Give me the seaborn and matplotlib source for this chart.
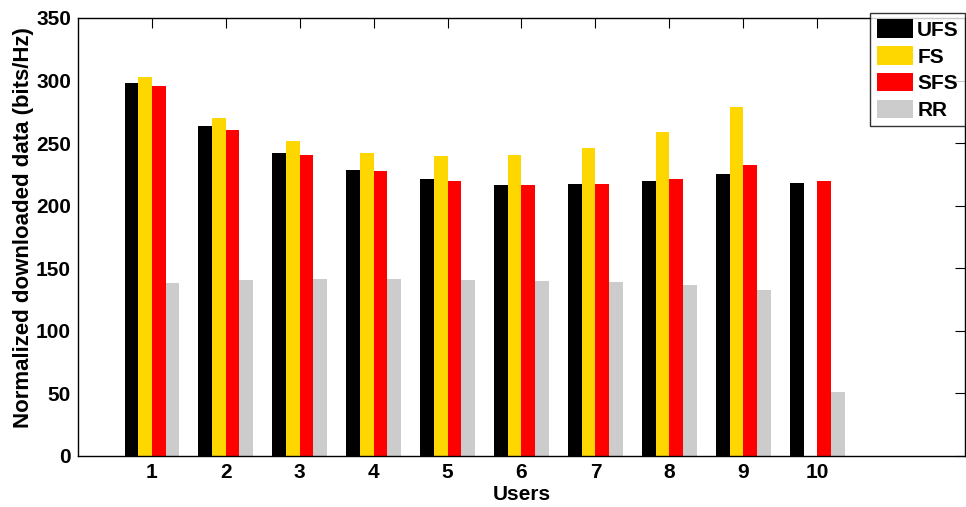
import numpy as np
import pandas as pd
import seaborn as sns
import matplotlib
matplotlib.use("Agg")
import matplotlib.pyplot as plt

users = [1, 2, 3, 4, 5, 6, 7, 8, 9, 10]
schemes = ["UFS", "FS", "SFS", "RR"]
ufs = [298.3, 263.4, 242.4, 228.8, 221.1, 216.3, 217.1, 219.5, 225.1, 218.4]
fs = [302.9, 269.8, 251.5, 241.9, 239.7, 240.5, 246.1, 258.9, 278.6, 0.0]
sfs = [295.7, 260.5, 240.3, 227.5, 219.8, 216.8, 217.6, 221.1, 232.3, 219.5]
rr = [138.0, 140.6, 141.4, 141.2, 140.9, 140.1, 138.8, 136.4, 132.9, 50.9]
colors = ["#000000", "#FFD700", "#FF0000", "#CCCCCC"]

df = pd.DataFrame({
    "Users": users * 4,
    "Scheme": [s for s in schemes for _ in users],
    "Value": ufs + fs + sfs + rr,
})

sns.set_style("white")
plt.rcParams["font.family"] = ["Liberation Sans", "DejaVu Sans"]
plt.rcParams["font.weight"] = "bold"
plt.rcParams["text.color"] = "black"
plt.rcParams["axes.labelcolor"] = "black"
plt.rcParams["xtick.color"] = "black"
plt.rcParams["ytick.color"] = "black"

fig = plt.figure(figsize=(9.66, 5.07), dpi=100)
ax = fig.add_axes([0.0807, 0.1006, 0.9183, 0.8639])

sns.barplot(data=df, x="Users", y="Value", hue="Scheme", hue_order=schemes,
            palette=colors, saturation=1, native_scale=True, width=0.74,
            dodge=True, linewidth=0, errorbar=None, ax=ax, legend=True)

ax.set_xlim(0, 12)
ax.set_ylim(0, 350)
ax.set_xticks(users)
ax.set_xticklabels([str(u) for u in users])
ax.set_yticks(np.arange(0, 351, 50))
ax.tick_params(direction="in", length=7, width=0.8, top=True, right=True,
               labelsize=15, pad=5, colors="black")
for lbl in ax.get_xticklabels() + ax.get_yticklabels():
    lbl.set_fontweight("bold")
for sp in ax.spines.values():
    sp.set_visible(True)
    sp.set_color("black")
    sp.set_linewidth(1.0)

ax.set_xlabel("Users", fontsize=15, fontweight="bold", labelpad=2)
ax.set_ylabel("Normalized downloaded data (bits/Hz)", fontsize=16,
              fontweight="bold")
ax.yaxis.set_label_coords(-0.050, 0.522)

handles, labels = ax.get_legend_handles_labels()
if ax.get_legend() is not None:
    ax.get_legend().remove()
leg = fig.legend(handles, labels, loc="upper left",
                 bbox_to_anchor=(0.901, 0.974), bbox_transform=fig.transFigure,
                 prop={"size": 15, "weight": "bold"}, frameon=True,
                 fancybox=False, handlelength=1.75, handleheight=1.0,
                 handletextpad=0.2, labelspacing=0.3, borderpad=0.3,
                 borderaxespad=0)
leg.get_frame().set_edgecolor("black")
leg.get_frame().set_linewidth(1.0)

fig.savefig("out.png", dpi=100)
